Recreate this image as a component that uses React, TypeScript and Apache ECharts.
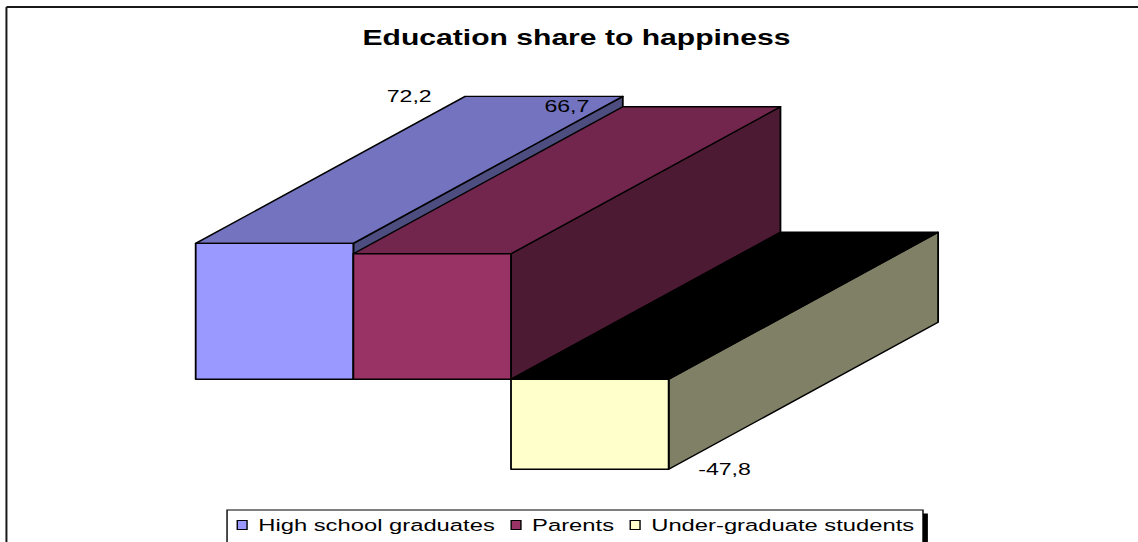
import React, { useEffect, useRef } from "react";
import * as echarts from "echarts";

// ---- data ----
const chartTitle = "Education share to happiness";
const categories = ["High school graduates", "Parents", "Under-graduate students"];
const values = [72.2, 66.7, -47.8];
const valueLabels = ["72,2", "66,7", "-47,8"];

// ---- styles ----
const W = 813;
const H = 542;
const STRETCH = 1138 / W; // the reference is horizontally stretched
const DX = 192.5; // depth offset (x)
const DY = -147; // depth offset (y)
const FONT = "'Liberation Sans', Arial, sans-serif";
const faces = [
  { front: "#9999FF", top: "#7373BF", side: "#4D4D80" },
  { front: "#993366", top: "#73264D", side: "#4D1A33" },
  { front: "#FFFFCC", top: "#000000", side: "#808066" },
];

export default function App() {
  const ref = useRef<HTMLDivElement>(null);

  useEffect(() => {
    if (!ref.current) return;
    const chart = echarts.init(ref.current, undefined, { renderer: "svg" });

    const series = categories.map((name, i) => ({
      type: "custom",
      name,
      itemStyle: { color: faces[i].front },
      encode: { x: 0, y: 1 },
      data: [[i, values[i]]],
      renderItem: (params: any, api: any) => {
        const c = api.value(0);
        const v = api.value(1);
        const base = api.coord([c, 0]);
        const end = api.coord([c, v]);
        const bw = api.size([1, 0])[0];
        const l = base[0] - bw / 2;
        const r = base[0] + bw / 2;
        const yT = Math.min(base[1], end[1]);
        const yB = Math.max(base[1], end[1]);
        const edge = { stroke: "#000", lineWidth: 1.3, lineJoin: "round" };
        return {
          type: "group",
          children: [
            {
              type: "polygon",
              shape: { points: [[r, yT], [r + DX, yT + DY], [r + DX, yB + DY], [r, yB]] },
              style: { fill: faces[i].side, ...edge },
            },
            {
              type: "polygon",
              shape: { points: [[l, yT], [r, yT], [r + DX, yT + DY], [l + DX, yT + DY]] },
              style: { fill: faces[i].top, ...edge },
            },
            {
              type: "rect",
              shape: { x: l, y: yT, width: bw, height: yB - yT },
              style: { fill: faces[i].front, ...edge },
            },
            {
              type: "text",
              x: base[0] + DX / 2,
              y: v >= 0 ? yT + DY : yB,
              z2: 10,
              style: {
                text: valueLabels[i],
                fill: "#000",
                fontFamily: FONT,
                fontSize: 16.5,
                align: "center",
                verticalAlign: "middle",
              },
            },
          ],
        };
      },
    }));

    chart.setOption({
      animation: false,
      backgroundColor: "#ffffff",
      title: {
        text: chartTitle,
        left: 259,
        top: 27,
        padding: 0,
        textStyle: { fontFamily: FONT, fontSize: 21.5, fontWeight: "bold", color: "#000" },
      },
      grid: { left: 139.8, top: 228.7, width: 337.9, height: 263.5 },
      xAxis: { type: "category", data: categories, show: false },
      yAxis: { type: "value", min: -60, max: 80, show: false },
      legend: {
        data: categories,
        left: 169,
        top: 516.5,
        padding: 0,
        icon: "rect",
        itemWidth: 7,
        itemHeight: 9,
        itemGap: 11,
        itemStyle: { borderColor: "#000", borderWidth: 1 },
        textStyle: { fontFamily: FONT, fontSize: 17, color: "#000", padding: [0, 0, 0, 3] },
        selectedMode: false,
      },
      graphic: [
        { type: "line", shape: { x1: 4.6, y1: 7, x2: W, y2: 7 }, style: { stroke: "#1a1a1a", lineWidth: 2 } },
        { type: "line", shape: { x1: 4.6, y1: 7, x2: 4.6, y2: H }, style: { stroke: "#1a1a1a", lineWidth: 1.43 } },
        { type: "rect", shape: { x: 165.7, y: 513.5, width: 497.2, height: 40 }, style: { fill: "#000" } },
        {
          type: "rect",
          shape: { x: 162.2, y: 510, width: 497.2, height: 40 },
          style: { fill: "#fff", stroke: "#000", lineWidth: 1 },
        },
      ],
      series,
    });

    return () => chart.dispose();
  }, []);

  return (
    <div
      ref={ref}
      style={{
        position: "fixed",
        left: 0,
        top: 0,
        width: W,
        height: H,
        transform: `scaleX(${STRETCH})`,
        transformOrigin: "0 0",
        background: "#fff",
      }}
    />
  );
}
